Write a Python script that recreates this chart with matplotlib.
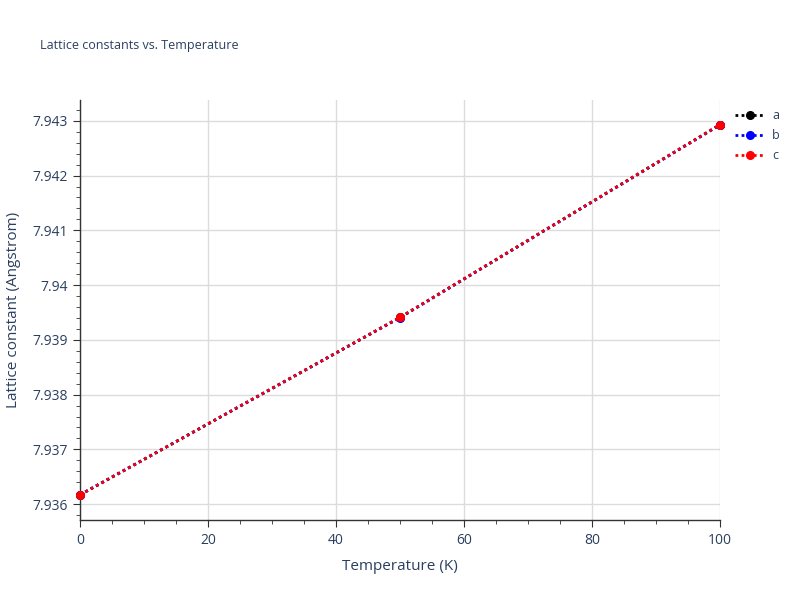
import numpy as np
import matplotlib
matplotlib.use('Agg')
import matplotlib.pyplot as plt
from matplotlib.ticker import MultipleLocator

## data
temps = [0, 50, 100]
a_vals = [7.93617, 7.93941, 7.94293]
b_vals = [7.93617, 7.939405, 7.942925]
c_vals = [7.93617, 7.93941, 7.94293]
series_names = ['a', 'b', 'c']
series_colors = ['black', 'blue', 'red']

plt.rcParams['font.family'] = ['Open Sans', 'DejaVu Sans']
txt = '#2a3f5f'
axcol = '#333333'

fig = plt.figure(figsize=(8, 6), dpi=100)
ax = fig.add_axes([0.1, 0.1333, 0.8, 0.7])

for vals, name, col in zip([a_vals, b_vals, c_vals], series_names, series_colors):
    ax.plot(temps, vals, linestyle=(0, (1, 1.2)), linewidth=2, color=col,
            marker='o', markersize=5.5, label=name, clip_on=False, zorder=3)

ax.set_xlim(0, 100)
ax.set_ylim(7.93571, 7.94338)
ax.xaxis.set_major_locator(MultipleLocator(20))
ax.xaxis.set_minor_locator(MultipleLocator(5))
ax.yaxis.set_major_locator(MultipleLocator(0.001))
ax.yaxis.set_minor_locator(MultipleLocator(0.0002))
ax.grid(True, which='major', color='#dcdcdc', linewidth=1)
ax.set_axisbelow(True)

ax.yaxis.set_major_formatter(plt.FuncFormatter(lambda v, p: ('%.3f' % v).rstrip('0').rstrip('.')))

for s in ['top', 'right']:
    ax.spines[s].set_visible(False)
for s in ['left', 'bottom']:
    ax.spines[s].set_color(axcol)
    ax.spines[s].set_linewidth(1)

ax.tick_params(which='major', direction='out', length=5, color=axcol, labelsize=10, labelcolor=txt, pad=4)
ax.tick_params(which='minor', direction='out', length=3, color=axcol)

ax.set_xlabel('Temperature (K)', fontsize=11, color=txt, labelpad=8)
ax.set_ylabel('Lattice constant (Angstrom)', fontsize=11, color=txt, labelpad=8)

fig.text(0.05, 0.925, 'Lattice constants vs. Temperature', fontsize=9, color=txt, ha='left', va='center')

leg = ax.legend(loc='upper left', bbox_to_anchor=(1.015, 0.99), frameon=False, fontsize=9,
                handlelength=2.4, labelspacing=0.55, handletextpad=0.6, borderaxespad=0)
for t in leg.get_texts():
    t.set_color(txt)

fig.savefig('out.png', dpi=100)
